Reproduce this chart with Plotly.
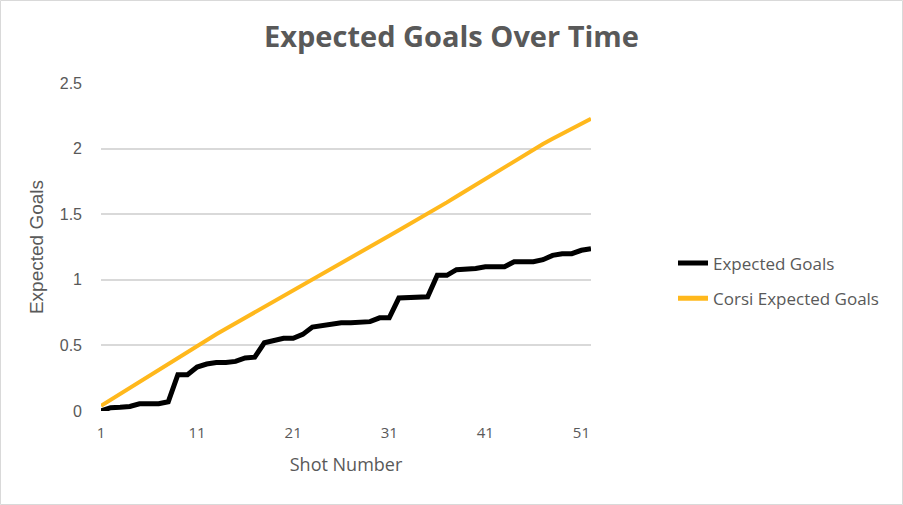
import plotly.graph_objects as go

shots = list(range(1, 53))
expected_goals = [0.0, 0.025, 0.028, 0.035, 0.055, 0.055, 0.055, 0.07, 0.277, 0.277,
                  0.335, 0.358, 0.37, 0.37, 0.378, 0.404, 0.41, 0.52, 0.539, 0.554,
                  0.554, 0.584, 0.64, 0.653, 0.66, 0.673, 0.673, 0.678, 0.681, 0.71,
                  0.71, 0.861, 0.866, 0.871, 0.871, 1.034, 1.034, 1.077, 1.08, 1.087,
                  1.10, 1.10, 1.10, 1.138, 1.138, 1.138, 1.153, 1.186, 1.199, 1.199,
                  1.225, 1.237]
corsi_expected_goals = [0.04, 0.086, 0.132, 0.178, 0.224, 0.27, 0.316, 0.362, 0.408, 0.454,
                        0.50, 0.542, 0.585, 0.627, 0.669, 0.712, 0.754, 0.797, 0.839, 0.881,
                        0.924, 0.966, 1.008, 1.049, 1.09, 1.131, 1.172, 1.213, 1.254, 1.295,
                        1.336, 1.377, 1.418, 1.459, 1.50, 1.545, 1.59, 1.635, 1.68, 1.725,
                        1.77, 1.815, 1.86, 1.905, 1.95, 1.995, 2.035, 2.075, 2.115, 2.155,
                        2.19, 2.228]
x_ticks = [1, 11, 21, 31, 41, 51]
y_ticks = [0, 0.5, 1, 1.5, 2, 2.5]
y_tick_labels = ["0", "0.5", "1", "1.5", "2", "2.5"]

W, H = 903, 505
L, R, T, B = 101, 312, 83, 94
pw, ph = W - L - R, H - T - B

TXT = "#595959"
FONT = "Open Sans"

fig = go.Figure()
fig.add_trace(go.Scatter(x=shots, y=expected_goals, mode="lines", name="Expected Goals",
                         legendgroup="a", line=dict(color="#000000", width=5)))
fig.add_trace(go.Scatter(x=shots, y=corsi_expected_goals, mode="lines", name="Corsi Expected Goals",
                         legendgroup="b", line=dict(color="#FFB81C", width=4)))

fig.update_layout(
    width=W, height=H,
    margin=dict(l=L, r=R, t=T, b=B),
    paper_bgcolor="white", plot_bgcolor="white",
    font=dict(family=FONT, color=TXT, size=14),
    title=dict(text="<b>Expected Goals Over Time</b>", x=0.5, xanchor="center",
               y=1 - 37 / H, yanchor="middle", yref="container",
               font=dict(size=29, color=TXT, family=FONT)),
    xaxis=dict(range=[1, 52], tickvals=x_ticks, showgrid=False, zeroline=False,
               showline=False, ticks="", tickfont=dict(size=15, color=TXT),
               ticklabelstandoff=11,
               title=dict(text="Shot Number", font=dict(size=18, color=TXT), standoff=17)),
    yaxis=dict(range=[0, 2.5], tickvals=y_ticks, ticktext=y_tick_labels,
               showgrid=True, gridcolor="#d9d9d9", gridwidth=1.5, zeroline=False,
               showline=False, ticks="", ticklabelstandoff=18,
               tickfont=dict(size=16, color=TXT, family="Liberation Sans"),
               title=dict(text="Expected Goals", font=dict(size=19, color=TXT, family="Liberation Sans"),
                          standoff=11)),
    legend=dict(x=(673 - L) / pw, xanchor="left", y=(H - B - 281) / ph, yanchor="middle",
                font=dict(size=17, color=TXT), bgcolor="rgba(0,0,0,0)",
                tracegroupgap=10, itemsizing="constant"),
    showlegend=True,
    shapes=[dict(type="rect", xref="paper", yref="paper",
                 x0=(0.5 - L) / pw, x1=(W - 0.5 - L) / pw,
                 y0=-(B - 0.5) / ph, y1=(ph + T - 0.5) / ph,
                 line=dict(color="#d9d9d9", width=1), layer="below")],
)

fig.write_html("out.html", config={"displayModeBar": False},
               post_script="document.body.style.margin='0';document.body.style.overflow='hidden';")
